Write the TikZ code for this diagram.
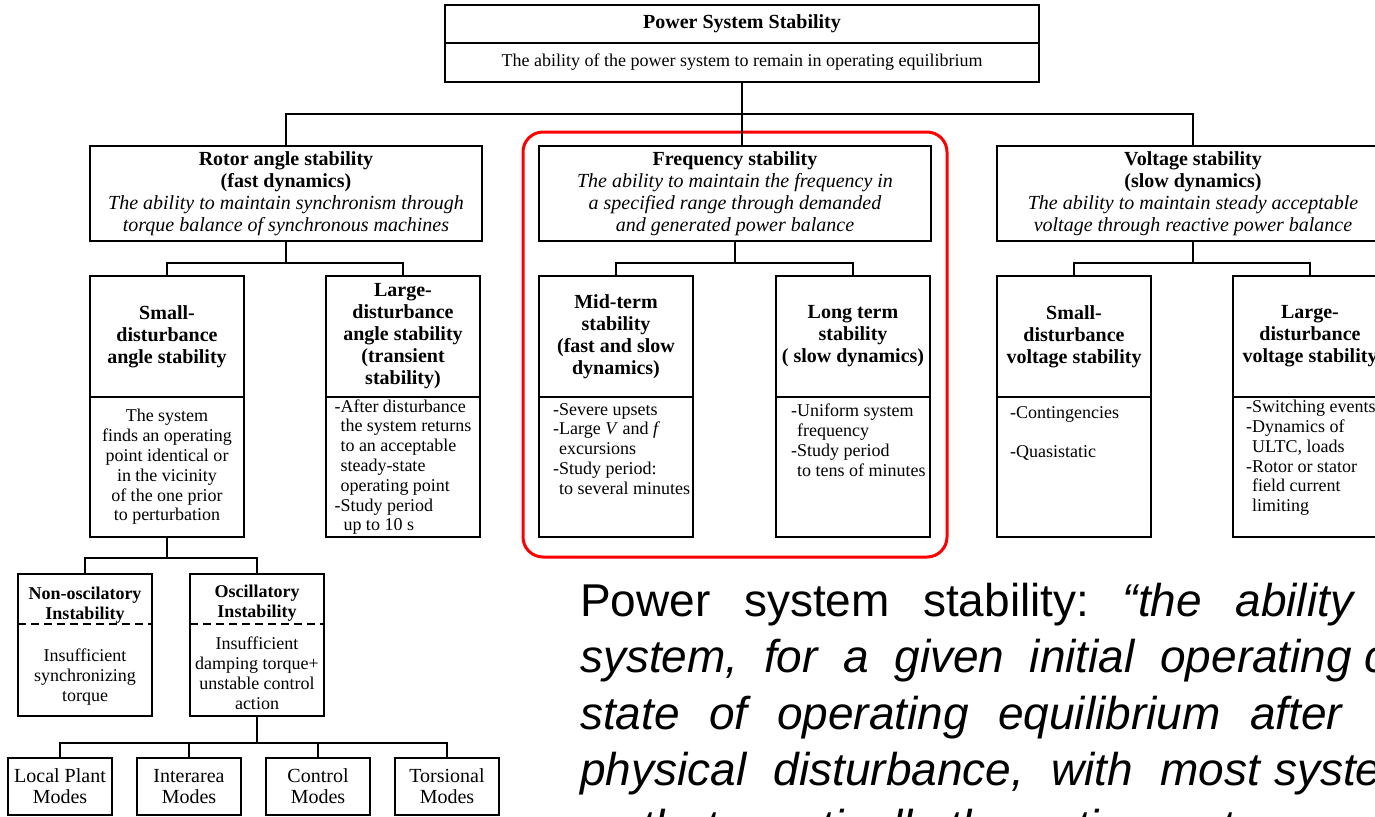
\documentclass[tikz,border=0pt]{standalone}
\usepackage{fontspec}
\setmainfont{Liberation Serif}
\newfontfamily\quotefont{Liberation Sans}
\usetikzlibrary{positioning, fit}

\begin{document}
\begin{tikzpicture}[x=1pt, y=-1pt,
  box/.style={draw, line width=1.8pt, outer sep=0pt, inner sep=1pt, align=center, font=\fontsize{18}{19.8}\selectfont},
  group/.style={box, minimum width=392pt, minimum height=95pt, font=\fontsize{20}{22}\selectfont},
  head/.style={box, minimum width=154pt, minimum height=121pt, font=\fontsize{20}{22}\selectfont\bfseries},
  body/.style={box, minimum width=154pt, minimum height=140pt},
  halfbox/.style={box, minimum width=134pt, minimum height=142pt},
  halfcap/.style={inner sep=0pt, align=center, font=\fontsize{18}{20}\selectfont\bfseries},
  halfnote/.style={inner sep=0pt, align=center, font=\fontsize{18}{19.8}\selectfont},
  mode/.style={box, minimum width=104pt, minimum height=57pt, font=\fontsize{20}{21}\selectfont},
  note/.style={inner sep=0pt, align=left, font=\fontsize{18}{19.8}\selectfont},
  wire/.style={line width=1.8pt},
  frame/.style={draw=red, line width=3pt, rounded corners=20pt},
  quote/.style={inner sep=0pt, anchor=base west, font=\quotefont\fontsize{46}{56}\selectfont\frenchspacing}
  ]

  \useasboundingbox (0,0) rectangle (1375,816);
  \clip (0,0) rectangle (1375,816);

  \node[box, line width=2.4pt, minimum width=594pt, minimum height=38pt, font=\fontsize{20}{22}\selectfont\bfseries] (top) at (742,24) {Power System Stability};
  \node[box, line width=2.4pt, minimum width=594pt, minimum height=39pt, below=0pt of top] (topb) {The ability of the power system to remain in operating equilibrium};

  \node[group] (rotor) at (286,193.5) {\textbf{Rotor angle stability}\\ \textbf{(fast dynamics)}\\ \textit{The ability to maintain synchronism through}\\ \textit{torque balance of synchronous machines}};
  \node[group, right=57pt of rotor] (freq) {\textbf{Frequency stability}\\ \textit{The ability to maintain the frequency in}\\ \textit{a specified range through demanded}\\ \textit{and generated power balance}};
  \node[group, right=66pt of freq] (volt) {\textbf{Voltage stability}\\ \textbf{(slow dynamics)}\\ \textit{The ability to maintain steady acceptable}\\ \textit{voltage through reactive power balance}};

  \node[head, below=35pt of rotor.south west, anchor=north west] (sa) {Small-\\disturbance\\angle stability};
  \node[body, below=0pt of sa] (sab) {The system\\finds an operating\\point identical or\\in the vicinity\\of the one prior\\to perturbation};
  \node[head, right=82pt of sa] (la) {Large-\\disturbance\\angle stability\\(transient\\stability)};
  \node[body, below=0pt of la, align=left] (lab) {-After disturbance\\\phantom{-}the system returns\\\phantom{-}to an acceptable\\\phantom{-}steady-state\\\phantom{-}operating point\\-Study period\\\phantom{-}\,up to 10 s};

  \node[head, below=35pt of freq.south west, anchor=north west] (mt) {Mid-term\\stability\\(fast and slow\\dynamics)};
  \node[body, below=0pt of mt] (mtb) {};
  \node[note, below right=6pt and 14pt of mtb.north west] (mtt) {-Severe upsets\\-Large \textit{V} and \textit{f}\\\phantom{-}excursions\\-Study period:\\\phantom{-}to several minutes};
  \node[head, right=83pt of mt] (lt) {Long term\\stability\\( slow dynamics)};
  \node[body, below=0pt of lt] (ltb) {};
  \node[note, below right=7pt and 15pt of ltb.north west] (ltt) {-Uniform system\\\phantom{-}frequency\\-Study period\\\phantom{-}to tens of minutes};

  \node[head, below=35pt of volt.south west, anchor=north west] (sv) {Small-\\disturbance\\voltage stability};
  \node[body, below=0pt of sv] (svb) {};
  \node[note, below right=9pt and 13pt of svb.north west] (svt) {-Contingencies\\[19.5pt]-Quasistatic};
  \node[head, right=82pt of sv] (lv) {Large-\\disturbance\\voltage stability};
  \node[body, below=0pt of lv] (lvb) {};
  \node[note, below right=3pt and 13pt of lvb.north west] (lvt) {-Switching events\\-Dynamics of\\\phantom{-}ULTC, loads\\-Rotor or stator\\\phantom{-}field current\\\phantom{-}limiting};

  \node[frame, fit=(freq)(mtb)(ltb), inner xsep=16pt, inner ysep=17pt, yshift=-3pt] (fr) {};

  \node[halfbox, anchor=north] (nonosc) at (85,574) {};
  \node[halfcap, below=13pt of nonosc.north] (nonosct) {Non-oscilatory\\Instability};
  \node[halfnote, below=75pt of nonosc.north] (nonoscb) {Insufficient\\synchronizing\\torque};
  \node[halfbox, right=38pt of nonosc] (osc) {};
  \node[halfcap, below=11pt of osc.north] (osct) {Oscillatory\\Instability};
  \node[halfnote, below=63pt of osc.north] (oscb) {Insufficient\\damping torque+\\unstable control\\action};
  \foreach \n in {nonosc, osc}
    \draw[wire, dash pattern=on 8pt off 5pt] ([yshift=-50pt]\n.north west) -- ([yshift=-50pt]\n.north east);

  \draw node[mode, anchor=north west] (local) at (8,758) {Local Plant\\Modes}
    node[mode, right=25pt of local] (inter) {Interarea\\Modes}
    node[mode, right=25pt of inter] (ctrl) {Control\\Modes}
    node[mode, right=25pt of ctrl] (tors) {Torsional\\Modes};

  \draw[wire] (topb.south) -- ++(0pt,-32pt) -| (rotor.north);
  \draw[wire] (topb.south) ++(0pt,-32pt) -| (volt.north);
  \draw[wire] (topb.south) -- (topb.south |- freq.north);
  \draw[wire] (rotor.south) -- ++(0pt,-22pt) -| (sa.north);
  \draw[wire] (rotor.south) ++(0pt,-22pt) -| (la.north);
  \draw[wire] (freq.south) -- ++(0pt,-22pt) -| (mt.north);
  \draw[wire] (freq.south) ++(0pt,-22pt) -| (lt.north);
  \draw[wire] (volt.south) -- ++(0pt,-22pt) -| (sv.north);
  \draw[wire] (volt.south) ++(0pt,-22pt) -| (lv.north);
  \draw[wire] (sab.south) -- ++(0pt,-21pt) -| (nonosc.north);
  \draw[wire] (sab.south) ++(0pt,-21pt) -| (osc.north);
  \draw[wire] (osc.south) -- ++(0pt,-27pt);
  \foreach \m in {local, inter, ctrl, tors}
    \draw[wire] (osc.south) ++(0pt,-27pt) -| (\m.north);

  \node[quote] (q1) at (580,616) {\makebox[773pt][s]{Power system stability: \itshape “the ability}};
  \node[quote] (q2) at (580,672.5) {\itshape\makebox[772pt][s]{system, for a given initial operating}\hspace{12pt}condition,};
  \node[quote] (q3) at (580,729) {\itshape\makebox[762pt][s]{state of operating equilibrium after}};
  \node[quote] (q4) at (580,785.5) {\itshape\makebox[680pt][s]{physical disturbance, with most}\hspace{14pt}system};
  \node[quote] (q5) at (580,842) {\itshape so that practically the entire system remains intact”};
\end{tikzpicture}
\end{document}
